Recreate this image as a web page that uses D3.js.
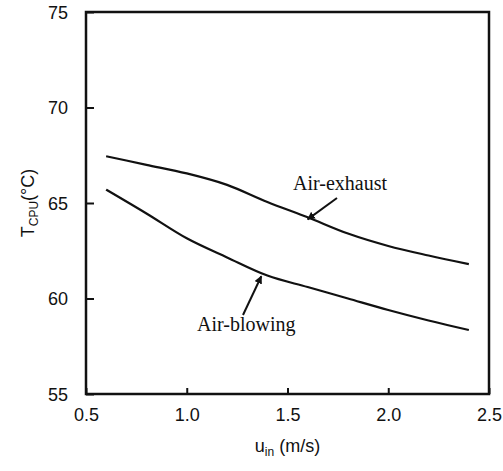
<!DOCTYPE html>
<html>
<head>
<meta charset="utf-8">
<script src="https://cdn.jsdelivr.net/npm/d3@7"></script>
<style>
  body { margin: 0; background: #fff; }
  .tick text { font-family: Arial, "Liberation Sans", sans-serif; font-size: 18px; fill: #111; }
</style>
</head>
<body>
<div id="chart"></div>
<script>
// velocity (m/s)
const uIn = [0.6, 0.8, 1.0, 1.2, 1.4, 1.6, 1.8, 2.0, 2.2, 2.4];
// CPU temperature (°C)
const airExhaust = [67.45, 67.0, 66.55, 65.95, 65.05, 64.25, 63.4, 62.75, 62.25, 61.8];
const airBlowing = [65.7, 64.45, 63.15, 62.15, 61.2, 60.6, 60.0, 59.4, 58.85, 58.35];
const xTicks = [0.5, 1.0, 1.5, 2.0, 2.5];
const yTicks = [55, 60, 65, 70, 75];

const width = 503, height = 471;
const margin = { top: 12, right: 14, bottom: 77, left: 86 };

const svg = d3.select("#chart").append("svg")
    .attr("width", width)
    .attr("height", height);

const x = d3.scaleLinear().domain([0.5, 2.5]).range([margin.left, width - margin.right]);
const y = d3.scaleLinear().domain([55, 75]).range([height - margin.bottom, margin.top]);

// axes, ticks inward
svg.append("g")
    .attr("transform", `translate(0,${height - margin.bottom})`)
    .call(d3.axisBottom(x).tickValues(xTicks).tickFormat(d3.format(".1f")).tickSizeInner(-6).tickSizeOuter(0).tickPadding(14))
    .call(g => g.select(".domain").remove())
    .call(g => g.selectAll("line").attr("stroke", "#111").attr("stroke-width", 2));

svg.append("g")
    .attr("transform", `translate(${margin.left},0)`)
    .call(d3.axisLeft(y).tickValues(yTicks).tickSizeInner(-8).tickSizeOuter(0).tickPadding(18))
    .call(g => g.select(".domain").remove())
    .call(g => g.selectAll("line").attr("stroke", "#111").attr("stroke-width", 2))
    .call(g => g.selectAll("text").attr("dy", "0.36em"));

// frame
svg.append("rect")
    .attr("x", x(0.5)).attr("y", y(75))
    .attr("width", x(2.5) - x(0.5)).attr("height", y(55) - y(75))
    .attr("fill", "none").attr("stroke", "#111").attr("stroke-width", 2.5);

// curves
const line = d3.line()
    .x((d, i) => x(uIn[i]))
    .y(d => y(d))
    .curve(d3.curveMonotoneX);

[airExhaust, airBlowing].forEach(s => {
    svg.append("path")
        .datum(s)
        .attr("d", line)
        .attr("fill", "none")
        .attr("stroke", "#111")
        .attr("stroke-width", 2.2);
});

// arrow marker
svg.append("defs").append("marker")
    .attr("id", "head")
    .attr("viewBox", "0 0 10 10")
    .attr("refX", 9).attr("refY", 5)
    .attr("markerWidth", 4).attr("markerHeight", 4)
    .attr("orient", "auto")
    .append("path").attr("d", "M0,0L10,5L0,10Z").attr("fill", "#111");

// annotations
const serif = "'Liberation Serif', 'Times New Roman', serif";
svg.append("text")
    .attr("x", 293).attr("y", 190)
    .attr("font-family", serif).attr("font-size", 20).attr("fill", "#111")
    .text("Air-exhaust");
svg.append("line")
    .attr("x1", 337).attr("y1", 198).attr("x2", x(1.6)).attr("y2", y(64.25) + 2)
    .attr("stroke", "#111").attr("stroke-width", 2).attr("marker-end", "url(#head)");

svg.append("text")
    .attr("x", 197).attr("y", 331)
    .attr("font-family", serif).attr("font-size", 20).attr("fill", "#111")
    .text("Air-blowing");
svg.append("line")
    .attr("x1", 243).attr("y1", 315).attr("x2", x(1.37)).attr("y2", y(61.32) + 3)
    .attr("stroke", "#111").attr("stroke-width", 2).attr("marker-end", "url(#head)");

// axis titles
const sans = "Arial, 'Liberation Sans', sans-serif";
const xt = svg.append("text")
    .attr("x", (x(0.5) + x(2.5)) / 2).attr("y", 452)
    .attr("text-anchor", "middle")
    .attr("font-family", sans).attr("font-size", 18).attr("fill", "#111");
xt.append("tspan").text("u");
xt.append("tspan").attr("font-size", 12).attr("dy", 4).text("in");
xt.append("tspan").attr("dy", -4).text(" (m/s)");

const yt = svg.append("text")
    .attr("transform", `translate(34,${(y(55) + y(75)) / 2}) rotate(-90)`)
    .attr("text-anchor", "middle")
    .attr("font-family", sans).attr("font-size", 18).attr("fill", "#111");
yt.append("tspan").text("T");
yt.append("tspan").attr("font-size", 12).attr("dy", 4).text("CPU");
yt.append("tspan").attr("dy", -4).text("(°C)");
</script>
</body>
</html>
